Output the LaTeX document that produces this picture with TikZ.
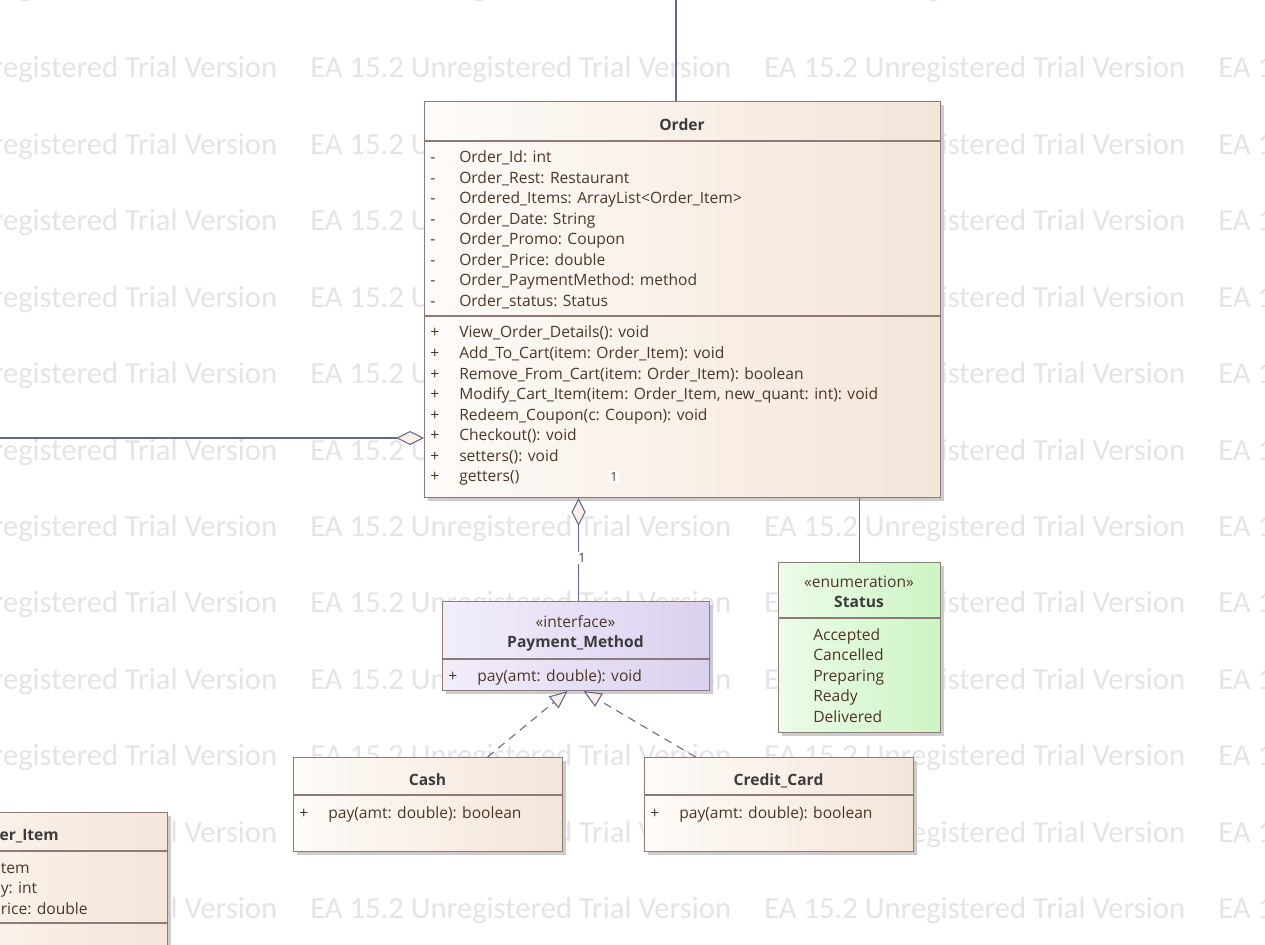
\documentclass[tikz,border=0pt]{standalone}
\usepackage{fontspec}
\setmainfont{Open Sans}
\newfontfamily\wmfont{Carlito}
\usetikzlibrary{arrows.meta,shadows,calc}
\definecolor{bordc}{HTML}{8C7B78}
\definecolor{connc}{HTML}{5F6A8A}
\definecolor{memc}{HTML}{4C3626}
\definecolor{ttlc}{HTML}{3C3C3C}
\definecolor{wmc}{HTML}{E6E3E6}
\definecolor{clsL}{HTML}{FEFBF8}
\definecolor{clsR}{HTML}{F4E5D9}
\definecolor{ifL}{HTML}{F2EEFA}
\definecolor{ifR}{HTML}{DBD0EF}
\definecolor{enL}{HTML}{ECFCE8}
\definecolor{enR}{HTML}{CDF4C5}
\definecolor{tipc}{HTML}{FCEFE8}
\tikzset{
  wm/.style={anchor=base west, inner sep=0, text=wmc, font=\wmfont\fontsize{23}{26}\selectfont},
  umlbox/.style={draw=bordc, line width=0.8pt, anchor=north west, inner sep=0,
     drop shadow={shadow xshift=2.3pt, shadow yshift=-2.3pt, fill=black!20, opacity=1}},
  classfill/.style={left color=clsL, right color=clsR},
  iffill/.style={left color=ifL, right color=ifR},
  enfill/.style={left color=enL, right color=enR},
  sepline/.style={draw=bordc, line width=0.8pt},
  mem/.style={anchor=base west, inner sep=0, text=memc, font=\fontsize{11.7}{14}\selectfont},
  ttl/.style={anchor=base, inner sep=0, text=ttlc, font=\fontsize{11.7}{14}\selectfont\bfseries},
  stereo/.style={anchor=base, inner sep=0, text=memc, font=\fontsize{11.7}{14}\selectfont},
  mult/.style={inner sep=1pt, fill=white, text=memc, font=\fontsize{9.5}{11}\selectfont},
  conn/.style={draw=connc, line width=0.8pt},
  aggtip/.tip={Diamond[length=21pt, width=10.5pt, fill=tipc, line join=miter]},
  real/.style={draw=connc, line width=0.8pt, dash pattern=on 6pt off 4.5pt,
     -{Triangle[length=13.5pt, width=11.5pt, fill=tipc]}}
}
\begin{document}
\begin{tikzpicture}[x=0.75pt,y=-0.75pt]
\useasboundingbox (0,0) rectangle (1265,945);
% watermark
\foreach \yy [count=\i] in {-3,78,154.4,230.8,307.2,383.6,460,536.4,612.8,689.2,765.6,842,918.4}{
  \foreach \xx [count=\j] in {-144,310,764,1218}{
    \node[wm] (wm\i-\j) at (\xx,\yy) {EA 15.2 Unregistered Trial Version};
  }
}
% ---------- Order ----------
\node[umlbox, classfill, minimum width=387pt, minimum height=297pt] (order) at (424,101) {};
\draw[sepline] (424,141) -- (940,141);
\draw[sepline] (424,316) -- (940,316);
\node[ttl] (orderT) at (682,131) {Order};
\foreach \t [count=\i] in {Order\_Id: int, Order\_Rest: Restaurant, Ordered\_Items: ArrayList<Order\_Item>,
   Order\_Date: String, Order\_Promo: Coupon, Order\_Price: double, Order\_PaymentMethod: method, Order\_status: Status}{
  \node[mem] (oav\i) at (430,{163+20.5*(\i-1)}) {-};
  \node[mem] (oa\i) at (459,{163+20.5*(\i-1)}) {\t};
}
\foreach \t [count=\i] in {View\_Order\_Details(): void, Add\_To\_Cart(item: Order\_Item): void,
   Remove\_From\_Cart(item: Order\_Item): boolean, {Modify\_Cart\_Item(item: Order\_Item, new\_quant: int): void},
   Redeem\_Coupon(c: Coupon): void, Checkout(): void, setters(): void, getters()}{
  \node[mem] (omv\i) at (430,{338+20.5*(\i-1)}) {+};
  \node[mem] (om\i) at (459,{338+20.5*(\i-1)}) {\t};
}
% ---------- Payment_Method ----------
\node[umlbox, iffill, minimum width=200.25pt, minimum height=66.75pt] (pm) at (442,601) {};
\draw[sepline] (442,659) -- (709,659);
\node[stereo] (pmS) at (575.5,627) {«interface»};
\node[ttl] (pmT) at (575.5,647) {Payment\_Method};
\node[mem] (pmv1) at (448,681) {+};
\node[mem] (pm1) at (477,681) {pay(amt: double): void};
% ---------- Status ----------
\node[umlbox, enfill, minimum width=121.5pt, minimum height=127.5pt] (status) at (778,562) {};
\draw[sepline] (778,618) -- (940,618);
\node[stereo] (stS) at (859,587) {«enumeration»};
\node[ttl] (stT) at (859,607) {Status};
\foreach \t [count=\i] in {Accepted, Cancelled, Preparing, Ready, Delivered}{
  \node[mem] (st\i) at (813,{640+20.5*(\i-1)}) {\t};
}
% ---------- Cash ----------
\node[umlbox, classfill, minimum width=201.75pt, minimum height=70.5pt] (cash) at (293,757) {};
\draw[sepline] (293,795) -- (562,795);
\node[ttl] (cashT) at (427.5,785) {Cash};
\node[mem] (cashv1) at (299,818) {+};
\node[mem] (cash1) at (328,818) {pay(amt: double): boolean};
% ---------- Credit_Card ----------
\node[umlbox, classfill, minimum width=201.75pt, minimum height=70.5pt] (cc) at (644,757) {};
\draw[sepline] (644,795) -- (913,795);
\node[ttl] (ccT) at (778.5,785) {Credit\_Card};
\node[mem] (ccv1) at (650,818) {+};
\node[mem] (cc1) at (679,818) {pay(amt: double): boolean};
% ---------- Order_Item (partly outside) ----------
\node[umlbox, classfill, minimum width=231pt, minimum height=120pt] (oi) at (-141,812) {};
\draw[sepline] (-141,851) -- (167,851);
\draw[sepline] (-141,923) -- (167,923);
\node[ttl, anchor=base east] (oiT) at (59,840) {Order\_Item};
\node[mem] (oi1) at (0.5,873) {tem};
\node[mem] (oi2) at (0.5,893) {y: int};
\node[mem] (oi3) at (0.5,914) {rice: double};
% ---------- connectors ----------
\coordinate (topend) at (676,0);
\draw[conn] (topend) -- (topend |- order.north);
\coordinate (leftend) at (0,438);
\draw[conn, -aggtip] (leftend) -- (leftend -| order.west);
\draw[conn, aggtip-] ([xshift=1.9pt]pm.north |- order.south) -- ([xshift=1.9pt]pm.north);
\draw[conn] (status.north |- order.south) -- (status.north);
\draw[real] ([xshift=44.6pt]cash.north) -- ([xshift=-6.4pt]pm.south);
\draw[real] ([xshift=-62.6pt]cc.north) -- ([xshift=5.6pt]pm.south);
% multiplicities
\node[mult] (m1) at (614,477) {1};
\node[mult] (m2) at (582,558) {1};
\end{tikzpicture}
\end{document}
